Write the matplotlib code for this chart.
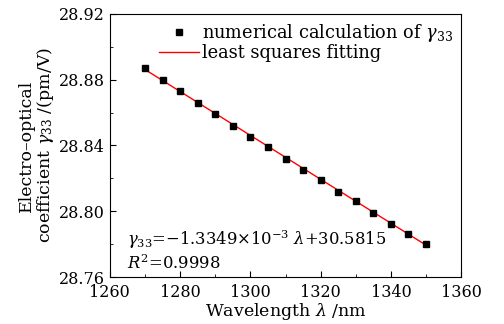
import matplotlib
matplotlib.use("Agg")
import matplotlib.pyplot as plt
import numpy as np

wavelength = [1270, 1275, 1280, 1285, 1290, 1295, 1300, 1305, 1310, 1315,
              1320, 1325, 1330, 1335, 1340, 1345, 1350]
gamma33 = [28.887, 28.880, 28.873, 28.866, 28.859, 28.852, 28.845, 28.839,
           28.832, 28.825, 28.819, 28.812, 28.806, 28.799, 28.792, 28.786, 28.780]
fit_slope = -1.3349e-3
fit_intercept = 30.5815
xticks = [1260, 1280, 1300, 1320, 1340, 1360]
yticks = [28.76, 28.80, 28.84, 28.88, 28.92]

plt.rcParams['font.family'] = ['DejaVu Serif']
plt.rcParams['mathtext.fontset'] = 'dejavuserif'

fig = plt.figure(figsize=(5.04, 3.24), dpi=100)
ax = fig.add_axes([0.218, 0.145, 0.697, 0.812])

x = np.array(wavelength)
ax.plot(x, fit_slope * x + fit_intercept, color='red', lw=1.0,
        label='least squares fitting', zorder=2)
ax.plot(wavelength, gamma33, 's', color='black', ms=4,
        label=r'numerical calculation of $\gamma_{33}$', zorder=3)

ax.set_xlim(1260, 1360)
ax.set_ylim(28.76, 28.92)
ax.set_xticks(xticks)
ax.set_yticks(yticks)
ax.set_yticklabels([f"{v:.2f}" for v in yticks])
ax.set_xticks(np.arange(1270, 1360, 20), minor=True)
ax.set_yticks(np.arange(28.78, 28.92, 0.04), minor=True)
ax.tick_params(direction='in', which='both', labelsize=11.5, top=False, right=False)
ax.tick_params(which='major', length=4)
ax.tick_params(which='minor', length=2)
ax.tick_params(axis='x', pad=5)

ax.set_xlabel(r'Wavelength $\lambda$ /nm', fontsize=12.5, labelpad=0)
ax.set_ylabel('Electro\u2013optical\ncoefficient' + r' $\gamma_{33}$ /(pm/V)',
              fontsize=12.5, labelpad=2, linespacing=1.0)

handles, labels = ax.get_legend_handles_labels()
ax.legend(handles[::-1], labels[::-1], loc='upper right', frameon=False,
          fontsize=12.8, handlelength=2.2, borderaxespad=0.05,
          labelspacing=0.0, handletextpad=0.2)

ax.text(0.05, 0.12, r'$\gamma_{33}$=$-$1.3349$\times$10$^{-3}$ $\lambda$+30.5815',
        transform=ax.transAxes, fontsize=11.8)
ax.text(0.05, 0.03, r'$R^2$=0.9998', transform=ax.transAxes, fontsize=11.8)

fig.savefig('out.png', dpi=100)
